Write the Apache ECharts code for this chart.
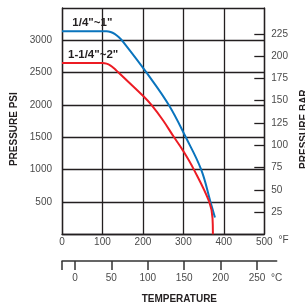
<!DOCTYPE html>
<html>
<head>
<meta charset="utf-8">
<script src="https://cdn.jsdelivr.net/npm/echarts@6/dist/echarts.min.js"></script>
<style>
  html, body { margin: 0; padding: 0; background: #fff; }
  #main { width: 305px; height: 307px; }
</style>
</head>
<body>
<div id="main"></div>
<script>
// series names
const seriesNames = ['1/4"~1"', '1-1/4"~2"'];
// 1/4"~1" : temperature (F) / pressure (psi)
const smallF = [0, 75, 110, 120, 130, 140, 150, 209, 264, 306, 344, 367, 378];
const smallPsi = [3140, 3140, 3140, 3130, 3100, 3050, 2985, 2500, 2000, 1500, 1000, 500, 260];
// 1-1/4"~2"
const largeF = [0, 77, 100, 110, 120, 130, 139, 202, 221, 250, 277, 298, 326, 364, 372, 373];
const largePsi = [2650, 2650, 2650, 2640, 2610, 2560, 2505, 2130, 2000, 1760, 1500, 1305, 1000, 500, 250, 0];
// point that carries the series label
const labelIdx = [1, 1];
// tick labels
const barTicks = [25, 50, 75, 100, 125, 150, 175, 200, 225];
const celsiusTicks = [0, 50, 100, 150, 200, 250];

const dark = '#231f20';
const tickText = { color: '#4a4a4a', fontSize: 10, fontFamily: 'Liberation Sans' };
const titleText = { color: dark, fontSize: 10, fontWeight: 'bold', fontFamily: 'Liberation Sans' };

function build(xs, ys, idx, name) {
  return xs.map((x, i) => {
    if (i !== idx) return [x, ys[i]];
    return {
      value: [x, ys[i]],
      label: { show: true, formatter: name, position: 'top', distance: 2,
        color: dark, fontSize: 11.5, fontWeight: 'bold', fontFamily: 'Liberation Sans' }
    };
  });
}

const chart = echarts.init(document.getElementById('main'));
chart.setOption({
  animation: false,
  grid: [
    { left: 62, right: 40.7, top: 8, bottom: 72.7, outerBoundsMode: 'none' },
    { left: 62, right: 28.3, top: 250, height: 11, outerBoundsMode: 'none' }
  ],
  xAxis: [
    {
      type: 'value', gridIndex: 0, min: 0, max: 500, interval: 100,
      name: '°F', nameLocation: 'end', nameGap: 12,
      nameTextStyle: Object.assign({}, tickText, { verticalAlign: 'top', padding: [1, 0, 0, 0] }),
      axisLine: { lineStyle: { color: dark, width: 1.3 } },
      axisTick: { show: false },
      axisLabel: Object.assign({ margin: 3 }, tickText),
      splitLine: { show: true, lineStyle: { color: dark, width: 1.3 } }
    },
    {
      type: 'value', gridIndex: 1, min: -17.78, max: 277,
      name: 'TEMPERATURE', nameLocation: 'middle', nameGap: 33,
      nameTextStyle: Object.assign({}, titleText, { padding: [0, 0, 0, 20] }),
      axisLine: { lineStyle: { color: '#333', width: 1.5 } },
      axisTick: { show: true, length: 9, customValues: [-17.78].concat(celsiusTicks),
        lineStyle: { color: '#333', width: 1.5 } },
      axisLabel: Object.assign({ margin: 12, customValues: celsiusTicks.concat([277]),
        formatter: v => v > 260 ? '°C' : String(v) }, tickText),
      splitLine: { show: false }
    }
  ],
  yAxis: [
    {
      type: 'value', gridIndex: 0, min: 0, max: 3500, interval: 500,
      name: 'PRESSURE PSI', nameLocation: 'middle', nameGap: 38,
      nameTextStyle: Object.assign({}, titleText, { padding: [0, 16, 0, 0] }),
      axisLine: { show: true, lineStyle: { color: dark, width: 1.3 } },
      axisTick: { show: false },
      axisLabel: Object.assign({ margin: 10,
        formatter: v => (v === 0 || v === 3500) ? '' : String(v) }, tickText),
      splitLine: { show: true, lineStyle: { color: dark, width: 1.3 } }
    },
    {
      type: 'value', gridIndex: 0, position: 'right', min: 0, max: 254,
      name: 'PRESSURE BAR', nameLocation: 'middle', nameGap: 32,
      nameTextStyle: Object.assign({}, titleText, { padding: [0, 16, 0, 0] }),
      axisLine: { show: true, lineStyle: { color: dark, width: 1.3 } },
      axisTick: { show: true, inside: true, length: 10, customValues: barTicks,
        lineStyle: { color: dark, width: 1.3 } },
      axisLabel: Object.assign({ margin: 7, customValues: barTicks }, tickText),
      splitLine: { show: false }
    },
    { type: 'value', gridIndex: 1, show: false }
  ],
  series: [
    {
      name: seriesNames[0], type: 'line', xAxisIndex: 0, yAxisIndex: 0,
      data: build(smallF, smallPsi, labelIdx[0], seriesNames[0]),
      smooth: 0.4, symbol: 'circle', symbolSize: 0, showSymbol: true, showAllSymbol: true,
      lineStyle: { color: '#0a74bd', width: 2 }, itemStyle: { color: '#0a74bd' }, z: 5
    },
    {
      name: seriesNames[1], type: 'line', xAxisIndex: 0, yAxisIndex: 0,
      data: build(largeF, largePsi, labelIdx[1], seriesNames[1]),
      smooth: 0.4, symbol: 'circle', symbolSize: 0, showSymbol: true, showAllSymbol: true,
      lineStyle: { color: '#ec1c24', width: 2 }, itemStyle: { color: '#ec1c24' }, z: 5
    }
  ]
});
</script>
</body>
</html>
